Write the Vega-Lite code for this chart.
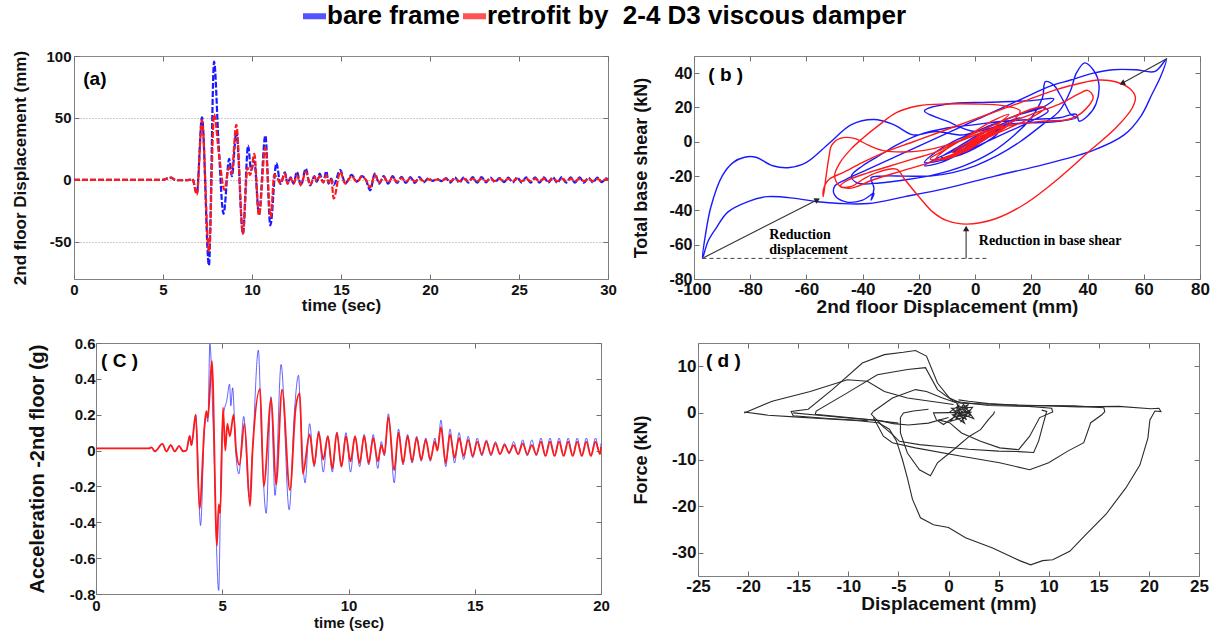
{
"$schema": "https://vega.github.io/schema/vega-lite/v6.json",
"background": "white",
"padding": {"left": 4, "top": 1, "right": 2, "bottom": 2},
"spacing": 18,
"datasets": {
"aB": [{"t":0,"v":0},{"t":5,"v":0},{"t":5.25,"v":1.2},{"t":5.45,"v":1.8},{"t":5.65,"v":0.2},{"t":6,"v":-0.3},{"t":6.5,"v":0},{"t":6.65,"v":0.8},{"t":6.9,"v":-11},{"t":7.19,"v":50.5},{"t":7.58,"v":-69},{"t":7.87,"v":95.5},{"t":8.12,"v":30},{"t":8.4,"v":-27.4},{"t":8.72,"v":17},{"t":8.87,"v":3},{"t":9.12,"v":38.5},{"t":9.49,"v":-43.5},{"t":9.78,"v":27.7},{"t":9.95,"v":8},{"t":10.13,"v":15},{"t":10.39,"v":-28},{"t":10.75,"v":35.8},{"t":11.03,"v":-36.8},{"t":11.37,"v":13.5},{"t":11.6,"v":-3.2},{"t":11.85,"v":6},{"t":12,"v":-3},{"t":12.17,"v":2},{"t":12.34,"v":-3},{"t":12.52,"v":6.5},{"t":12.75,"v":-4.5},{"t":13.02,"v":9},{"t":13.27,"v":-4.5},{"t":13.5,"v":3},{"t":13.64,"v":-1.5},{"t":13.8,"v":5},{"t":14,"v":-2},{"t":14.18,"v":7},{"t":14.3,"v":-3},{"t":14.45,"v":1},{"t":14.59,"v":-4},{"t":14.96,"v":8},{"t":15.24,"v":-3},{"t":15.6,"v":4},{"t":15.89,"v":-1.5},{"t":16.17,"v":3},{"t":16.4,"v":0},{"t":16.64,"v":-8.5},{"t":16.9,"v":5},{"t":17.15,"v":-3},{"t":17.4,"v":3},{"t":17.65,"v":-3},{"t":17.9,"v":3},{"t":18.15,"v":-2.5},{"t":18.4,"v":2.5},{"t":18.65,"v":-2.5},{"t":18.9,"v":2.2},{"t":19.15,"v":-2.5},{"t":19.4,"v":2.2},{"t":19.65,"v":-2},{"t":19.9,"v":1.2},{"t":20.15,"v":-0.8},{"t":20.4,"v":0.6},{"t":20.65,"v":-1},{"t":20.9,"v":1.5},{"t":21.15,"v":-2.2},{"t":21.4,"v":2},{"t":21.65,"v":-2.3},{"t":21.9,"v":2},{"t":22.15,"v":-2.2},{"t":22.4,"v":2.2},{"t":22.65,"v":-2.3},{"t":22.9,"v":2.2},{"t":23.15,"v":-2},{"t":23.4,"v":1.8},{"t":23.65,"v":-1.8},{"t":23.9,"v":1.5},{"t":24.15,"v":-1.8},{"t":24.4,"v":1.8},{"t":24.65,"v":-2},{"t":24.9,"v":2},{"t":25.15,"v":-2.3},{"t":25.4,"v":2},{"t":25.65,"v":-2.3},{"t":25.9,"v":2},{"t":26.15,"v":-2.2},{"t":26.4,"v":2},{"t":26.65,"v":-2.3},{"t":26.9,"v":2.2},{"t":27.15,"v":-2.3},{"t":27.4,"v":2.2},{"t":27.65,"v":-2.2},{"t":27.9,"v":2},{"t":28.15,"v":-2.2},{"t":28.4,"v":2},{"t":28.65,"v":-2.2},{"t":28.9,"v":1.8},{"t":29.15,"v":-2},{"t":29.4,"v":1.8},{"t":29.65,"v":-1.8},{"t":29.9,"v":1.2},{"t":30,"v":0}],
"aR": [{"t":0,"v":0},{"t":5,"v":0},{"t":5.25,"v":1.2},{"t":5.45,"v":1.8},{"t":5.65,"v":0.2},{"t":6,"v":-0.3},{"t":6.5,"v":0},{"t":6.65,"v":0.8},{"t":6.9,"v":-12},{"t":7.19,"v":48},{"t":7.58,"v":-58},{"t":7.87,"v":53},{"t":8.15,"v":20},{"t":8.45,"v":-8},{"t":8.7,"v":10},{"t":8.85,"v":5},{"t":9.12,"v":44.5},{"t":9.49,"v":-43.5},{"t":9.75,"v":10},{"t":9.9,"v":4},{"t":10.13,"v":21},{"t":10.39,"v":-28.7},{"t":10.75,"v":26},{"t":11.05,"v":-30},{"t":11.25,"v":4},{"t":11.4,"v":2},{"t":11.6,"v":-3},{"t":11.85,"v":5},{"t":12,"v":-3},{"t":12.17,"v":1.5},{"t":12.34,"v":-3},{"t":12.52,"v":3.6},{"t":12.75,"v":-4},{"t":13.02,"v":6.7},{"t":13.27,"v":-4},{"t":13.5,"v":2.5},{"t":13.64,"v":-1},{"t":13.8,"v":3},{"t":14,"v":-2},{"t":14.18,"v":4},{"t":14.3,"v":-2},{"t":14.45,"v":1},{"t":14.59,"v":-15},{"t":14.96,"v":6.5},{"t":15.24,"v":-3},{"t":15.6,"v":3},{"t":15.89,"v":-1.5},{"t":16.17,"v":2.5},{"t":16.4,"v":0},{"t":16.64,"v":-6},{"t":16.9,"v":4},{"t":17.15,"v":-2},{"t":17.4,"v":2},{"t":17.65,"v":-2},{"t":17.9,"v":2},{"t":18.15,"v":-1.5},{"t":18.4,"v":1.5},{"t":18.65,"v":-1.3},{"t":18.9,"v":1.2},{"t":19.15,"v":-1.2},{"t":19.4,"v":1},{"t":19.65,"v":-1},{"t":19.9,"v":0.6},{"t":20.15,"v":-0.4},{"t":20.4,"v":0.3},{"t":20.65,"v":-0.5},{"t":20.9,"v":0.8},{"t":21.15,"v":-1},{"t":21.4,"v":1},{"t":21.65,"v":-1.1},{"t":21.9,"v":1},{"t":22.15,"v":-1},{"t":22.4,"v":1},{"t":22.65,"v":-1.1},{"t":22.9,"v":1},{"t":23.15,"v":-1},{"t":23.4,"v":0.9},{"t":23.65,"v":-0.9},{"t":23.9,"v":0.8},{"t":24.15,"v":-0.9},{"t":24.4,"v":0.9},{"t":24.65,"v":-1},{"t":24.9,"v":1},{"t":25.15,"v":-1.1},{"t":25.4,"v":1},{"t":25.65,"v":-1.1},{"t":25.9,"v":1},{"t":26.15,"v":-1},{"t":26.4,"v":1},{"t":26.65,"v":-1.1},{"t":26.9,"v":1},{"t":27.15,"v":-1.1},{"t":27.4,"v":1},{"t":27.65,"v":-1},{"t":27.9,"v":1},{"t":28.15,"v":-1},{"t":28.4,"v":1},{"t":28.65,"v":-1},{"t":28.9,"v":0.9},{"t":29.15,"v":-1},{"t":29.4,"v":0.9},{"t":29.65,"v":-0.9},{"t":29.9,"v":0.6},{"t":30,"v":0}],
"cB": [{"t":0,"v":0.012},{"t":2.1,"v":0.012},{"t":2.2,"v":0.018},{"t":2.33,"v":0},{"t":2.63,"v":0.037},{"t":2.79,"v":-0.003},{"t":2.96,"v":0.033},{"t":3.12,"v":-0.003},{"t":3.29,"v":0.028},{"t":3.45,"v":0},{"t":3.58,"v":0},{"t":3.71,"v":0.084},{"t":3.78,"v":0.028},{"t":3.95,"v":0.2},{"t":4.14,"v":-0.418},{"t":4.3,"v":0.14},{"t":4.37,"v":0.2},{"t":4.43,"v":0.16},{"t":4.51,"v":0.594},{"t":4.65,"v":0.1},{"t":4.86,"v":-0.78},{"t":4.95,"v":-0.1},{"t":5.05,"v":0.2},{"t":5.18,"v":0.28},{"t":5.29,"v":0.37},{"t":5.34,"v":0.25},{"t":5.41,"v":0.35},{"t":5.54,"v":-0.02},{"t":5.66,"v":-0.13},{"t":5.85,"v":0.19},{"t":6.07,"v":-0.26},{"t":6.2,"v":0},{"t":6.43,"v":0.56},{"t":6.55,"v":0.1},{"t":6.74,"v":-0.35},{"t":6.93,"v":0.3},{"t":7.09,"v":-0.25},{"t":7.33,"v":0.48},{"t":7.65,"v":-0.33},{"t":7.86,"v":0.22},{"t":8.02,"v":0.42},{"t":8.1,"v":0.2},{"t":8.28,"v":-0.18},{"t":8.46,"v":0.15},{"t":8.64,"v":-0.09},{"t":8.82,"v":0.11},{"t":9,"v":-0.12},{"t":9.18,"v":0.08},{"t":9.36,"v":-0.12},{"t":9.54,"v":0.1},{"t":9.72,"v":-0.09},{"t":9.9,"v":0.1},{"t":10.08,"v":-0.12},{"t":10.26,"v":0.08},{"t":10.44,"v":-0.09},{"t":10.62,"v":0.09},{"t":10.8,"v":-0.08},{"t":10.98,"v":0.09},{"t":11.16,"v":-0.1},{"t":11.3,"v":0.05},{"t":11.42,"v":-0.03},{"t":11.58,"v":0.205},{"t":11.81,"v":-0.18},{"t":11.98,"v":0.12},{"t":12.16,"v":-0.08},{"t":12.34,"v":0.09},{"t":12.52,"v":-0.07},{"t":12.7,"v":0.08},{"t":12.88,"v":-0.06},{"t":13.06,"v":0.07},{"t":13.24,"v":-0.06},{"t":13.42,"v":0.07},{"t":13.52,"v":0},{"t":13.66,"v":0.17},{"t":13.85,"v":-0.09},{"t":14.02,"v":0.12},{"t":14.2,"v":-0.07},{"t":14.38,"v":0.1},{"t":14.56,"v":-0.05},{"t":14.74,"v":0.08},{"t":14.92,"v":-0.04},{"t":15.1,"v":0.07},{"t":15.28,"v":-0.03},{"t":15.46,"v":0.06},{"t":15.64,"v":-0.03},{"t":15.82,"v":0.05},{"t":16,"v":-0.02},{"t":16.18,"v":0.04},{"t":16.36,"v":-0.02},{"t":16.54,"v":0.05},{"t":16.72,"v":-0.02},{"t":16.9,"v":0.06},{"t":17.08,"v":-0.03},{"t":17.26,"v":0.06},{"t":17.44,"v":-0.03},{"t":17.62,"v":0.07},{"t":17.8,"v":-0.03},{"t":17.98,"v":0.07},{"t":18.16,"v":-0.03},{"t":18.34,"v":0.07},{"t":18.52,"v":-0.03},{"t":18.7,"v":0.07},{"t":18.88,"v":-0.03},{"t":19.06,"v":0.07},{"t":19.24,"v":-0.03},{"t":19.42,"v":0.07},{"t":19.6,"v":-0.03},{"t":19.78,"v":0.07},{"t":19.96,"v":-0.02},{"t":20,"v":0.04}],
"cR": [{"t":0,"v":0.012},{"t":2.1,"v":0.012},{"t":2.2,"v":0.018},{"t":2.33,"v":-0.005},{"t":2.63,"v":0.037},{"t":2.79,"v":-0.005},{"t":2.96,"v":0.03},{"t":3.12,"v":-0.005},{"t":3.29,"v":0.025},{"t":3.45,"v":-0.005},{"t":3.58,"v":0},{"t":3.71,"v":0.08},{"t":3.78,"v":0.03},{"t":3.95,"v":0.2},{"t":4.1,"v":-0.325},{"t":4.3,"v":0.14},{"t":4.37,"v":0.22},{"t":4.43,"v":0.18},{"t":4.59,"v":0.5},{"t":4.79,"v":-0.53},{"t":4.86,"v":-0.3},{"t":4.92,"v":-0.35},{"t":5.03,"v":0.24},{"t":5.12,"v":0},{"t":5.2,"v":0.15},{"t":5.3,"v":0.08},{"t":5.45,"v":0.2},{"t":5.55,"v":0},{"t":5.68,"v":-0.08},{"t":5.88,"v":0.15},{"t":6.1,"v":-0.31},{"t":6.2,"v":0},{"t":6.5,"v":0.344},{"t":6.64,"v":-0.2},{"t":6.94,"v":0.29},{"t":7.13,"v":-0.19},{"t":7.37,"v":0.34},{"t":7.68,"v":-0.22},{"t":7.91,"v":0.24},{"t":8.07,"v":0.32},{"t":8.19,"v":-0.13},{"t":8.46,"v":0.09},{"t":8.64,"v":-0.08},{"t":8.82,"v":0.1},{"t":9,"v":-0.05},{"t":9.18,"v":0.08},{"t":9.36,"v":-0.1},{"t":9.54,"v":0.1},{"t":9.72,"v":-0.09},{"t":9.9,"v":0.08},{"t":10.08,"v":-0.06},{"t":10.26,"v":0.08},{"t":10.44,"v":-0.07},{"t":10.62,"v":0.08},{"t":10.8,"v":-0.07},{"t":10.98,"v":0.07},{"t":11.16,"v":-0.06},{"t":11.3,"v":0.03},{"t":11.42,"v":-0.02},{"t":11.58,"v":0.186},{"t":11.81,"v":-0.11},{"t":11.98,"v":0.1},{"t":12.16,"v":-0.07},{"t":12.34,"v":0.08},{"t":12.52,"v":-0.06},{"t":12.7,"v":0.07},{"t":12.88,"v":-0.05},{"t":13.06,"v":0.06},{"t":13.24,"v":-0.05},{"t":13.42,"v":0.05},{"t":13.52,"v":0},{"t":13.66,"v":0.13},{"t":13.85,"v":-0.07},{"t":14.02,"v":0.09},{"t":14.2,"v":-0.04},{"t":14.38,"v":0.07},{"t":14.56,"v":-0.03},{"t":14.74,"v":0.06},{"t":14.92,"v":-0.03},{"t":15.1,"v":0.05},{"t":15.28,"v":-0.02},{"t":15.46,"v":0.05},{"t":15.64,"v":-0.02},{"t":15.82,"v":0.04},{"t":16,"v":-0.02},{"t":16.18,"v":0.03},{"t":16.36,"v":-0.01},{"t":16.54,"v":0.03},{"t":16.72,"v":-0.02},{"t":16.9,"v":0.04},{"t":17.08,"v":-0.02},{"t":17.26,"v":0.03},{"t":17.44,"v":-0.02},{"t":17.62,"v":0.05},{"t":17.8,"v":-0.03},{"t":17.98,"v":0.05},{"t":18.16,"v":-0.03},{"t":18.34,"v":0.05},{"t":18.52,"v":-0.03},{"t":18.7,"v":0.05},{"t":18.88,"v":-0.03},{"t":19.06,"v":0.05},{"t":19.24,"v":-0.03},{"t":19.42,"v":0.05},{"t":19.6,"v":-0.03},{"t":19.78,"v":0.05},{"t":19.96,"v":-0.02},{"t":20,"v":0.02}],
"bB": [{"x":0,"y":0},{"x":4,"y":4},{"x":-3,"y":-3},{"x":6,"y":6},{"x":-5,"y":-5},{"x":2,"y":1},{"x":10,"y":9},{"x":16,"y":14},{"x":12,"y":12},{"x":4,"y":6},{"x":-6,"y":-4},{"x":-14,"y":-10},{"x":-18,"y":-14},{"x":-12,"y":-12},{"x":-4,"y":-6},{"x":4,"y":0},{"x":12,"y":6},{"x":20,"y":12},{"x":26,"y":18},{"x":24,"y":20},{"x":16,"y":16},{"x":6,"y":10},{"x":-4,"y":4},{"x":-14,"y":6},{"x":-22,"y":4},{"x":-29,"y":10},{"x":-36,"y":13},{"x":-44,"y":10},{"x":-52,"y":-1},{"x":-60,"y":-12},{"x":-66,"y":-15},{"x":-72,"y":-14},{"x":-78,"y":-9},{"x":-82,"y":-9},{"x":-86,"y":-12},{"x":-90,"y":-20},{"x":-94,"y":-38},{"x":-96,"y":-55},{"x":-97,"y":-68},{"x":-95,"y":-58},{"x":-92,"y":-50},{"x":-88,"y":-41},{"x":-81,"y":-35},{"x":-74,"y":-32},{"x":-64,"y":-33},{"x":-56,"y":-35},{"x":-48,"y":-36},{"x":-38,"y":-36},{"x":-25,"y":-32},{"x":-10,"y":-27},{"x":7,"y":-20},{"x":25,"y":-13},{"x":42,"y":-5},{"x":53,"y":4},{"x":59,"y":15},{"x":63,"y":28},{"x":66,"y":38},{"x":68,"y":48},{"x":64,"y":41},{"x":57,"y":42},{"x":49,"y":42},{"x":42,"y":40},{"x":34,"y":36},{"x":26,"y":32},{"x":18,"y":26},{"x":10,"y":20},{"x":2,"y":14},{"x":-6,"y":8},{"x":-14,"y":2},{"x":-22,"y":-4},{"x":-30,"y":-10},{"x":-38,"y":-16},{"x":-46,"y":-22},{"x":-50,"y":-26},{"x":-50,"y":-31},{"x":-46,"y":-35},{"x":-40,"y":-34},{"x":-36,"y":-30},{"x":-37,"y":-34},{"x":-36,"y":-27},{"x":-37,"y":-21},{"x":-33,"y":-20},{"x":-25,"y":-20},{"x":-16,"y":-20},{"x":-8,"y":-18},{"x":0,"y":-14},{"x":8,"y":-8},{"x":16,"y":0},{"x":24,"y":10},{"x":30,"y":18},{"x":34,"y":30},{"x":36,"y":40},{"x":39,"y":46},{"x":42,"y":42},{"x":44,"y":34},{"x":43,"y":22},{"x":40,"y":15},{"x":37,"y":12},{"x":36,"y":16},{"x":30,"y":14},{"x":20,"y":13},{"x":10,"y":12},{"x":0,"y":10},{"x":-10,"y":8},{"x":-20,"y":4},{"x":-28,"y":-2},{"x":-34,"y":-8},{"x":-40,"y":-14},{"x":-44,"y":-20},{"x":-42,"y":-24},{"x":-34,"y":-24},{"x":-24,"y":-22},{"x":-14,"y":-19},{"x":-4,"y":-14},{"x":6,"y":-6},{"x":14,"y":4},{"x":20,"y":14},{"x":24,"y":26},{"x":25,"y":35},{"x":28,"y":33},{"x":30,"y":28},{"x":32,"y":22},{"x":34,"y":16},{"x":36,"y":14},{"x":30,"y":12},{"x":20,"y":11},{"x":10,"y":10},{"x":0,"y":6},{"x":-10,"y":12},{"x":-18,"y":18},{"x":-10,"y":22},{"x":5,"y":23},{"x":20,"y":24},{"x":28,"y":25},{"x":24,"y":20},{"x":14,"y":15},{"x":4,"y":8},{"x":-8,"y":0},{"x":-14,"y":-6},{"x":-18,"y":-12},{"x":-10,"y":-10},{"x":-2,"y":-4},{"x":6,"y":4},{"x":12,"y":10},{"x":8,"y":9},{"x":0,"y":3},{"x":-6,"y":-3},{"x":-12,"y":-9},{"x":-6,"y":-8},{"x":2,"y":-2},{"x":8,"y":5},{"x":4,"y":4},{"x":-3,"y":-2},{"x":-8,"y":-6},{"x":-2,"y":-3},{"x":5,"y":3},{"x":9,"y":8},{"x":3,"y":3},{"x":-2,"y":-1},{"x":3,"y":2},{"x":0,"y":0}],
"bR": [{"x":0,"y":0},{"x":3,"y":4},{"x":-3,"y":-3},{"x":5,"y":6},{"x":-4,"y":-6},{"x":2,"y":2},{"x":8,"y":10},{"x":12,"y":16},{"x":6,"y":12},{"x":-2,"y":4},{"x":-10,"y":-4},{"x":-16,"y":-10},{"x":-10,"y":-10},{"x":-2,"y":-4},{"x":6,"y":4},{"x":12,"y":10},{"x":16,"y":18},{"x":10,"y":21},{"x":0,"y":22},{"x":-10,"y":22},{"x":-20,"y":21},{"x":-28,"y":17},{"x":-34,"y":10},{"x":-40,"y":2},{"x":-44,"y":-4},{"x":-48,"y":-12},{"x":-50,"y":-20},{"x":-48,"y":-26},{"x":-44,"y":-26},{"x":-40,"y":-22},{"x":-35,"y":-18},{"x":-28,"y":-16},{"x":-25,"y":-22},{"x":-20,"y":-32},{"x":-15,"y":-41},{"x":-10,"y":-46},{"x":-3,"y":-48},{"x":7,"y":-45},{"x":18,"y":-36},{"x":30,"y":-21},{"x":41,"y":-5},{"x":50,"y":8},{"x":56,"y":20},{"x":57,"y":26},{"x":55,"y":31},{"x":50,"y":35},{"x":44,"y":36},{"x":37,"y":34},{"x":28,"y":30},{"x":18,"y":24},{"x":8,"y":18},{"x":-2,"y":12},{"x":-12,"y":6},{"x":-22,"y":0},{"x":-32,"y":-6},{"x":-40,"y":-12},{"x":-47,"y":-18},{"x":-52,"y":-22},{"x":-54,"y":-28},{"x":-54,"y":-32},{"x":-53,"y":-20},{"x":-52,"y":-9},{"x":-51,"y":-2},{"x":-48,"y":2},{"x":-43,"y":2},{"x":-38,"y":-2},{"x":-33,"y":-5},{"x":-26,"y":-6},{"x":-18,"y":-5},{"x":-10,"y":-2},{"x":0,"y":4},{"x":10,"y":10},{"x":20,"y":16},{"x":30,"y":22},{"x":37,"y":28},{"x":40,"y":30},{"x":42,"y":26},{"x":38,"y":17},{"x":33,"y":13},{"x":24,"y":12},{"x":14,"y":10},{"x":4,"y":6},{"x":-6,"y":0},{"x":-14,"y":-6},{"x":-22,"y":-10},{"x":-30,"y":-14},{"x":-38,"y":-18},{"x":-46,"y":-23},{"x":-48,"y":-26},{"x":-44,"y":-27},{"x":-36,"y":-22},{"x":-26,"y":-17},{"x":-16,"y":-12},{"x":-6,"y":-6},{"x":4,"y":2},{"x":12,"y":8},{"x":20,"y":14},{"x":25,"y":20},{"x":22,"y":20},{"x":14,"y":15},{"x":4,"y":8},{"x":-4,"y":2},{"x":-10,"y":-4},{"x":-14,"y":-10},{"x":-8,"y":-8},{"x":0,"y":-2},{"x":6,"y":4},{"x":10,"y":9},{"x":4,"y":6},{"x":-2,"y":0},{"x":-8,"y":-6},{"x":-4,"y":-6},{"x":2,"y":0},{"x":7,"y":6},{"x":3,"y":4},{"x":-3,"y":-2},{"x":-7,"y":-6},{"x":-2,"y":-3},{"x":4,"y":3},{"x":8,"y":8},{"x":2,"y":2},{"x":-2,"y":-2},{"x":1,"y":1}],
"d": [{"g":1,"x":-20.4,"y":0.2},{"g":1,"x":-18,"y":-0.5},{"g":1,"x":-15,"y":-0.9},{"g":1,"x":-12,"y":-1.3},{"g":1,"x":-9,"y":-1.7},{"g":1,"x":-7,"y":-2.1},{"g":1,"x":-5.9,"y":-3.5},{"g":1,"x":-5.2,"y":-6},{"g":1,"x":-4.6,"y":-10},{"g":1,"x":-4.1,"y":-14},{"g":1,"x":-3.6,"y":-18.5},{"g":1,"x":-2.8,"y":-22.5},{"g":1,"x":-1.5,"y":-24},{"g":1,"x":0,"y":-24.6},{"g":1,"x":1.7,"y":-26.8},{"g":1,"x":4.4,"y":-29},{"g":1,"x":7.1,"y":-31.7},{"g":1,"x":8.2,"y":-32.6},{"g":1,"x":9.4,"y":-31.7},{"g":1,"x":10.4,"y":-31.5},{"g":1,"x":12.1,"y":-29.7},{"g":1,"x":13.7,"y":-26.1},{"g":1,"x":15.7,"y":-21.8},{"g":1,"x":17.7,"y":-16.1},{"g":1,"x":19.1,"y":-11.2},{"g":1,"x":19.9,"y":-5.4},{"g":1,"x":20.1,"y":-1.5},{"g":1,"x":20.6,"y":0.4},{"g":1,"x":21.2,"y":0.3},{"g":1,"x":21,"y":1},{"g":1,"x":20.2,"y":0.9},{"g":1,"x":17,"y":1.4},{"g":1,"x":13,"y":1.3},{"g":1,"x":10,"y":1.5},{"g":1,"x":7,"y":1.6},{"g":1,"x":4,"y":2},{"g":1,"x":2,"y":2.5},{"g":1,"x":1,"y":2.8},
{"g":2,"x":-8,"y":-1.7},{"g":2,"x":-12,"y":-1.2},{"g":2,"x":-15.5,"y":-0.6},{"g":2,"x":-15.7,"y":0.3},{"g":2,"x":-14,"y":0.8},{"g":2,"x":-11.6,"y":5},{"g":2,"x":-8.6,"y":10.7},{"g":2,"x":-6.4,"y":12.5},{"g":2,"x":-4.5,"y":13},{"g":2,"x":-3.3,"y":13.4},{"g":2,"x":-2.2,"y":12.2},{"g":2,"x":-1.1,"y":6.4},{"g":2,"x":0.1,"y":3.2},{"g":2,"x":1.2,"y":2.1},{"g":2,"x":5,"y":1.8},{"g":2,"x":8.8,"y":1.6},{"g":2,"x":12.6,"y":1.5},{"g":2,"x":15.5,"y":1.1},{"g":2,"x":15.6,"y":0.3},{"g":2,"x":15.3,"y":-0.4},{"g":2,"x":14.2,"y":-2.1},{"g":2,"x":13.5,"y":-6.4},{"g":2,"x":11.9,"y":-8.2},{"g":2,"x":10,"y":-10.7},{"g":2,"x":8.1,"y":-12.2},{"g":2,"x":5.1,"y":-10.7},{"g":2,"x":1.3,"y":-9.3},{"g":2,"x":-3.3,"y":-7.5},{"g":2,"x":-5.6,"y":-6.4},{"g":2,"x":-6.5,"y":-5},{"g":2,"x":-7.5,"y":-1},
{"g":3,"x":-5,"y":-2.2},{"g":3,"x":-8,"y":-1.4},{"g":3,"x":-11,"y":-0.8},{"g":3,"x":-13.3,"y":-0.3},{"g":3,"x":-13.2,"y":0.4},{"g":3,"x":-10.1,"y":4.3},{"g":3,"x":-7.1,"y":8.2},{"g":3,"x":-4.1,"y":9.3},{"g":3,"x":-2.3,"y":9.7},{"g":3,"x":-1.1,"y":5},{"g":3,"x":0.5,"y":2.5},{"g":3,"x":4,"y":1.6},{"g":3,"x":8,"y":1.4},{"g":3,"x":10.3,"y":1},{"g":3,"x":10.4,"y":0.2},{"g":3,"x":9.1,"y":-1},{"g":3,"x":8.1,"y":-5},{"g":3,"x":7,"y":-7.9},{"g":3,"x":5.1,"y":-7.5},{"g":3,"x":3.2,"y":-6.1},{"g":3,"x":1.3,"y":-4.3},{"g":3,"x":0.1,"y":-2.1},{"g":3,"x":-1,"y":-1.5},
{"g":4,"x":-20.4,"y":0},{"g":4,"x":-17.6,"y":2.5},{"g":4,"x":-13.8,"y":4.6},{"g":4,"x":-10.1,"y":7.1},{"g":4,"x":-8.1,"y":6.8},{"g":4,"x":-6.4,"y":4.6},{"g":4,"x":-4.1,"y":3.2},{"g":4,"x":-1.8,"y":2.5},{"g":4,"x":0.5,"y":1.8},
{"g":5,"x":-7.5,"y":0.3},{"g":5,"x":-5.6,"y":3.2},{"g":5,"x":-3.3,"y":5},{"g":5,"x":-2.2,"y":4.6},{"g":5,"x":-0.6,"y":3.2},{"g":5,"x":1,"y":2},
{"g":6,"x":-7.5,"y":0.3},{"g":6,"x":-7.7,"y":-0.3},{"g":6,"x":-6.5,"y":-3},{"g":6,"x":-5.6,"y":-4.6},{"g":6,"x":-4.9,"y":-6.1},{"g":6,"x":-2.9,"y":-6.8},{"g":6,"x":-0.9,"y":-7.2},{"g":6,"x":2,"y":-7.8},{"g":6,"x":5,"y":-8.2},{"g":6,"x":7,"y":-8.3},{"g":6,"x":8.5,"y":-8.5},{"g":6,"x":9,"y":-6},{"g":6,"x":9.5,"y":-2},{"g":6,"x":9.8,"y":0.3},{"g":6,"x":9.3,"y":0.6},
{"g":7,"x":4.6,"y":0.3},{"g":7,"x":4.5,"y":-0.2},{"g":7,"x":4,"y":-1.4},{"g":7,"x":3.2,"y":-3.6},{"g":7,"x":2.1,"y":-5},{"g":7,"x":0.5,"y":-7.9},{"g":7,"x":-1.1,"y":-10.7},{"g":7,"x":-1.8,"y":-13.5},{"g":7,"x":-2.9,"y":-12.2},{"g":7,"x":-4.1,"y":-8.6},{"g":7,"x":-4.8,"y":-4.3},{"g":7,"x":-4.8,"y":-1},{"g":7,"x":-4.5,"y":0},{"g":7,"x":-3.5,"y":0.4},{"g":7,"x":-2,"y":0.8},
{"g":8,"x":0,"y":0},{"g":8,"x":1,"y":1.5},{"g":8,"x":0.5,"y":-1},{"g":8,"x":2,"y":0.5},{"g":8,"x":1.2,"y":-2},{"g":8,"x":2.4,"y":1.2},{"g":8,"x":0.3,"y":1},{"g":8,"x":1.8,"y":-1.5},{"g":8,"x":0.8,"y":2},{"g":8,"x":2.2,"y":-0.5},{"g":8,"x":0.2,"y":-1.8},{"g":8,"x":1.5,"y":1.8},{"g":8,"x":2.5,"y":-1.2},{"g":8,"x":0.6,"y":0.4},{"g":8,"x":1.9,"y":1},{"g":8,"x":1.1,"y":-0.8},{"g":8,"x":2.3,"y":0.2},{"g":8,"x":0.4,"y":-0.4},{"g":8,"x":1.6,"y":-2.2},{"g":8,"x":1,"y":0.8},{"g":8,"x":2,"y":1.8},{"g":8,"x":0.7,"y":-1.4},{"g":8,"x":1.4,"y":0.1},{"g":8,"x":-1.5,"y":0},{"g":8,"x":-1.2,"y":-1.5},{"g":8,"x":-0.5,"y":-2.5},{"g":8,"x":0.5,"y":-1},
{"g":9,"x":-15.5,"y":0},{"g":9,"x":-13,"y":-0.5},{"g":9,"x":-10,"y":-1.1},{"g":9,"x":-7,"y":-1.6},{"g":9,"x":-5.5,"y":-2.3},{"g":9,"x":-4,"y":-2.6},{"g":9,"x":-2,"y":-2.2},{"g":9,"x":0,"y":-1}]
},
"vconcat": [
{
"bounds": "flush",
"spacing": 0,
"resolve": {"scale": {"color": "shared", "x": "independent", "y": "independent"}, "legend": {"color": "shared"}},
"hconcat": [
{"width": 70, "height": 1, "view": {"stroke": null}, "data": {"values": [{"k": 0}]}, "mark": {"type": "point", "opacity": 0}},
{
 "width": 534, "height": 223,
 "resolve": {"axis": {"x": "independent", "y": "independent"}},
 "layer": [
  {"data": {"name": "aB"}, "mark": {"type": "line", "strokeWidth": 2.2, "strokeDash": [6, 2], "interpolate": "monotone"},
   "encoding": {
    "x": {"field": "t", "type": "quantitative", "scale": {"domain": [0, 30], "nice": false, "zero": false},
          "axis": {"orient": "bottom", "values": [0,5,10,15,20,25,30], "title": "time (sec)", "titleFontSize": 17, "labelFontSize": 15, "titlePadding": 0, "labelExpr": "datum.value < 0 ? '-' + format(-datum.value, '~g') : format(datum.value, '~g')"}},
    "y": {"field": "v", "type": "quantitative", "scale": {"domain": [-80, 100], "nice": false, "zero": false},
          "axis": {"orient": "left", "values": [-50,0,50,100], "title": "2nd floor Displacement (mm)", "titleFontSize": 17, "labelFontSize": 15, "titlePadding": 16, "grid": true, "gridDash": [1, 2], "gridColor": "#9a9a9a", "labelExpr": "datum.value < 0 ? '-' + format(-datum.value, '~g') : format(datum.value, '~g')"}},
    "color": {"datum": "bare frame", "type": "nominal", "scale": {"domain": ["bare frame", "retrofit by \u00a02-4 D3 viscous damper"], "range": ["#1a1aff", "#ff1a1a"]}, "legend": {"title": null}}
   }},
  {"data": {"name": "aR"}, "mark": {"type": "line", "strokeWidth": 2.2, "strokeDash": [6, 2], "interpolate": "monotone"},
   "encoding": {
    "x": {"field": "t", "type": "quantitative", "axis": null},
    "y": {"field": "v", "type": "quantitative", "axis": null},
    "color": {"datum": "retrofit by \u00a02-4 D3 viscous damper", "type": "nominal", "scale": {"domain": ["bare frame", "retrofit by \u00a02-4 D3 viscous damper"], "range": ["#1a1aff", "#ff1a1a"]}, "legend": {"title": null}}
   }},
  {"data": {"values": [{"t": 0.52, "v": 81.5, "label": "(a)"}]}, "mark": {"type": "text", "align": "left", "baseline": "middle", "fontSize": 19, "fontWeight": "bold", "font": "Liberation Sans", "color": "#000"},
   "encoding": {
    "x": {"field": "t", "type": "quantitative", "axis": {"orient": "top", "labels": false, "title": null, "values": [0,5,10,15,20,25,30]}},
    "y": {"field": "v", "type": "quantitative", "axis": {"orient": "right", "labels": false, "title": null, "values": [-50,0,50,100]}},
    "text": {"field": "label"}
   }}
 ]
},
{"width": 86, "height": 1, "view": {"stroke": null}, "data": {"values": [{"k": 0}]}, "mark": {"type": "point", "opacity": 0}},
{
 "width": 506, "height": 223,
 "resolve": {"axis": {"x": "independent", "y": "independent"}},
 "layer": [
  {"data": {"name": "bB"}, "mark": {"type": "line", "strokeWidth": 1.4, "interpolate": "catmull-rom"},
   "encoding": {
    "x": {"field": "x", "type": "quantitative", "scale": {"domain": [-100, 80], "nice": false, "zero": false},
          "axis": {"orient": "bottom", "values": [-100,-80,-60,-40,-20,0,20,40,60,80], "title": "2nd floor Displacement (mm)", "titleFontSize": 19, "labelFontSize": 17, "titlePadding": 0, "labelPadding": 7, "labelExpr": "datum.value < 0 ? '-' + format(-datum.value, '~g') : format(datum.value, '~g')"}},
    "y": {"field": "y", "type": "quantitative", "scale": {"domain": [-80, 50], "nice": false, "zero": false},
          "axis": {"orient": "left", "values": [-80,-60,-40,-20,0,20,40], "title": "Total base shear (kN)", "titleFontSize": 18, "labelFontSize": 16, "titlePadding": 18, "labelPadding": 7, "labelExpr": "datum.value < 0 ? '-' + format(-datum.value, '~g') : format(datum.value, '~g')"}},
    "order": {"value": null},
    "color": {"datum": "bare frame", "type": "nominal", "scale": {"domain": ["bare frame", "retrofit by \u00a02-4 D3 viscous damper"], "range": ["#1a1aff", "#ff1a1a"]}, "legend": {"title": null}}
   }},
  {"data": {"name": "bR"}, "mark": {"type": "line", "strokeWidth": 1.4, "interpolate": "catmull-rom"},
   "encoding": {
    "x": {"field": "x", "type": "quantitative", "axis": null},
    "y": {"field": "y", "type": "quantitative", "axis": null},
    "order": {"value": null},
    "color": {"datum": "retrofit by \u00a02-4 D3 viscous damper", "type": "nominal", "scale": {"domain": ["bare frame", "retrofit by \u00a02-4 D3 viscous damper"], "range": ["#1a1aff", "#ff1a1a"]}, "legend": {"title": null}}
   }},
  {"data": {"values": [{"x": -97, "y": -68, "x2": 4.3, "y2": -68}]}, "mark": {"type": "rule", "strokeDash": [4, 3], "color": "#444", "strokeWidth": 1},
   "encoding": {"x": {"field": "x", "type": "quantitative", "axis": null}, "y": {"field": "y", "type": "quantitative", "axis": null}, "x2": {"field": "x2"}, "y2": {"field": "y2"}}},
  {"data": {"values": [{"x": -96.6, "y": -67.6, "x2": -56.1, "y2": -33.8}, {"x": 68.3, "y": 48.5, "x2": 52.3, "y2": 34.1}, {"x": -3.2, "y": -68, "x2": -3.2, "y2": -50.6}]}, "mark": {"type": "rule", "color": "#333", "strokeWidth": 1.1},
   "encoding": {"x": {"field": "x", "type": "quantitative", "axis": null}, "y": {"field": "y", "type": "quantitative", "axis": null}, "x2": {"field": "x2"}, "y2": {"field": "y2"}}},
  {"data": {"values": [{"x": -56.1, "y": -33.8}]}, "mark": {"type": "point", "shape": "triangle-up", "filled": true, "size": 40, "color": "#222", "opacity": 1, "angle": 62},
   "encoding": {"x": {"field": "x", "type": "quantitative", "axis": null}, "y": {"field": "y", "type": "quantitative", "axis": null}}},
  {"data": {"values": [{"x": 52.3, "y": 34.1}]}, "mark": {"type": "point", "shape": "triangle-up", "filled": true, "size": 40, "color": "#222", "opacity": 1, "angle": 246},
   "encoding": {"x": {"field": "x", "type": "quantitative", "axis": null}, "y": {"field": "y", "type": "quantitative", "axis": null}}},
  {"data": {"values": [{"x": -3.2, "y": -50.6}]}, "mark": {"type": "point", "shape": "triangle-up", "filled": true, "size": 40, "color": "#222", "opacity": 1, "angle": 0},
   "encoding": {"x": {"field": "x", "type": "quantitative", "axis": null}, "y": {"field": "y", "type": "quantitative", "axis": null}}},
  {"data": {"values": [{"x": -73.2, "y": -54.6, "label": "Reduction"}, {"x": -73.2, "y": -63.3, "label": "displacement"}, {"x": 1.3, "y": -57.9, "label": "Reduction in base shear"}]},
   "mark": {"type": "text", "align": "left", "baseline": "middle", "font": "Liberation Serif", "fontWeight": "bold", "fontSize": 14, "color": "#000"},
   "encoding": {"x": {"field": "x", "type": "quantitative", "axis": null}, "y": {"field": "y", "type": "quantitative", "axis": null}, "text": {"field": "label"}}},
  {"data": {"values": [{"x": -94.9, "y": 39.2, "label": "( b )"}]}, "mark": {"type": "text", "align": "left", "baseline": "middle", "fontSize": 19, "fontWeight": "bold", "font": "Liberation Sans", "color": "#000"},
   "encoding": {
    "x": {"field": "x", "type": "quantitative", "axis": {"orient": "top", "labels": false, "title": null, "values": [-100,-80,-60,-40,-20,0,20,40,60,80]}},
    "y": {"field": "y", "type": "quantitative", "axis": {"orient": "right", "labels": false, "title": null, "values": [-80,-60,-40,-20,0,20,40]}},
    "text": {"field": "label"}
   }}
 ]
}
]
},
{
"bounds": "flush",
"spacing": 0,
"resolve": {"scale": {"color": "shared", "x": "independent", "y": "independent"}, "legend": {"color": "shared"}},
"hconcat": [
{"width": 92, "height": 1, "view": {"stroke": null}, "data": {"values": [{"k": 0}]}, "mark": {"type": "point", "opacity": 0}},
{
 "width": 505, "height": 251,
 "resolve": {"axis": {"x": "independent", "y": "independent"}},
 "layer": [
  {"data": {"name": "cB"}, "mark": {"type": "line", "strokeWidth": 0.9, "opacity": 0.75, "interpolate": "monotone"},
   "encoding": {
    "x": {"field": "t", "type": "quantitative", "scale": {"domain": [0, 20], "nice": false, "zero": false},
          "axis": {"orient": "bottom", "values": [0,5,10,15,20], "title": "time (sec)", "titleFontSize": 15, "labelFontSize": 15, "titlePadding": 2, "labelPadding": 9, "labelExpr": "datum.value < 0 ? '-' + format(-datum.value, '~g') : format(datum.value, '~g')"}},
    "y": {"field": "v", "type": "quantitative", "scale": {"domain": [-0.8, 0.6], "nice": false, "zero": false},
          "axis": {"orient": "left", "values": [-0.8,-0.6,-0.4,-0.2,0,0.2,0.4,0.6], "title": "Acceleration -2nd floor (g)", "titleFontSize": 20, "labelFontSize": 15, "titlePadding": 22, "labelPadding": 6, "labelExpr": "datum.value < 0 ? '-' + format(-datum.value, '~g') : format(datum.value, '~g')"}},
    "color": {"datum": "bare frame", "type": "nominal", "scale": {"domain": ["bare frame", "retrofit by \u00a02-4 D3 viscous damper"], "range": ["#1a1aff", "#ff1a1a"]}, "legend": {"title": null}}
   }},
  {"data": {"name": "cR"}, "mark": {"type": "line", "strokeWidth": 1.8, "interpolate": "monotone"},
   "encoding": {
    "x": {"field": "t", "type": "quantitative", "axis": null},
    "y": {"field": "v", "type": "quantitative", "axis": null},
    "color": {"datum": "retrofit by \u00a02-4 D3 viscous damper", "type": "nominal", "scale": {"domain": ["bare frame", "retrofit by \u00a02-4 D3 viscous damper"], "range": ["#1a1aff", "#ff1a1a"]}, "legend": {"title": null}}
   }},
  {"data": {"values": [{"t": 0.2, "v": 0.5, "label": "( C )"}]}, "mark": {"type": "text", "align": "left", "baseline": "middle", "fontSize": 19, "fontWeight": "bold", "font": "Liberation Sans", "color": "#000"},
   "encoding": {
    "x": {"field": "t", "type": "quantitative", "axis": {"orient": "top", "labels": false, "title": null, "values": [0,5,10,15,20]}},
    "y": {"field": "v", "type": "quantitative", "axis": {"orient": "right", "labels": false, "title": null, "values": [-0.8,-0.6,-0.4,-0.2,0,0.2,0.4,0.6]}},
    "text": {"field": "label"}
   }}
 ]
},
{"width": 97, "height": 1, "view": {"stroke": null}, "data": {"values": [{"k": 0}]}, "mark": {"type": "point", "opacity": 0}},
{
 "width": 501, "height": 233,
 "resolve": {"axis": {"x": "independent", "y": "independent"}},
 "layer": [
  {"data": {"name": "d"}, "mark": {"type": "line", "strokeWidth": 1.1, "color": "#2a2a2a"},
   "encoding": {
    "x": {"field": "x", "type": "quantitative", "scale": {"domain": [-25, 25], "nice": false, "zero": false},
          "axis": {"orient": "bottom", "values": [-25,-20,-15,-10,-5,0,5,10,15,20,25], "title": "Displacement (mm)", "titleFontSize": 19, "labelFontSize": 17, "titlePadding": 0, "labelPadding": 7, "labelExpr": "datum.value < 0 ? '-' + format(-datum.value, '~g') : format(datum.value, '~g')"}},
    "y": {"field": "y", "type": "quantitative", "scale": {"domain": [-35, 15], "nice": false, "zero": false},
          "axis": {"orient": "left", "values": [-30,-20,-10,0,10], "title": "Force (kN)", "titleFontSize": 18, "labelFontSize": 17, "titlePadding": 21, "labelPadding": 7, "labelExpr": "datum.value < 0 ? '-' + format(-datum.value, '~g') : format(datum.value, '~g')"}},
    "detail": {"field": "g", "type": "nominal"},
    "order": {"value": null}
   }},
  {"data": {"values": [{"x": -24.2, "y": 11.2, "label": "( d )"}]}, "mark": {"type": "text", "align": "left", "baseline": "middle", "fontSize": 19, "fontWeight": "bold", "font": "Liberation Sans", "color": "#000"},
   "encoding": {
    "x": {"field": "x", "type": "quantitative", "axis": {"orient": "top", "labels": false, "title": null, "values": [-25,-20,-15,-10,-5,0,5,10,15,20,25]}},
    "y": {"field": "y", "type": "quantitative", "axis": {"orient": "right", "labels": false, "title": null, "values": [-30,-20,-10,0,10]}},
    "text": {"field": "label"}
   }}
 ]
}
]
}
],
"resolve": {"scale": {"color": "shared", "x": "independent", "y": "independent"}, "legend": {"color": "shared"}},
"config": {
 "view": {"stroke": "#808080", "strokeWidth": 1},
 "axis": {"domain": false, "tickSize": -5, "tickColor": "#707070", "tickWidth": 1, "labelFont": "Liberation Sans", "labelFontWeight": "bold", "labelColor": "#111111", "titleFont": "Liberation Sans", "titleFontWeight": "bold", "titleColor": "#111111", "labelPadding": 8, "labelFlush": false, "labelOverlap": false, "labelBound": false, "grid": false},
 "legend": {"orient": "none", "legendX": 296, "legendY": -54.5, "direction": "horizontal", "symbolType": "stroke", "symbolSize": 529, "symbolStrokeWidth": 6, "labelFont": "Liberation Sans", "labelFontWeight": "bold", "labelFontSize": 26, "labelColor": "#000000", "labelLimit": 0, "labelOffset": -2, "columnPadding": -17, "padding": 0}
}
}
